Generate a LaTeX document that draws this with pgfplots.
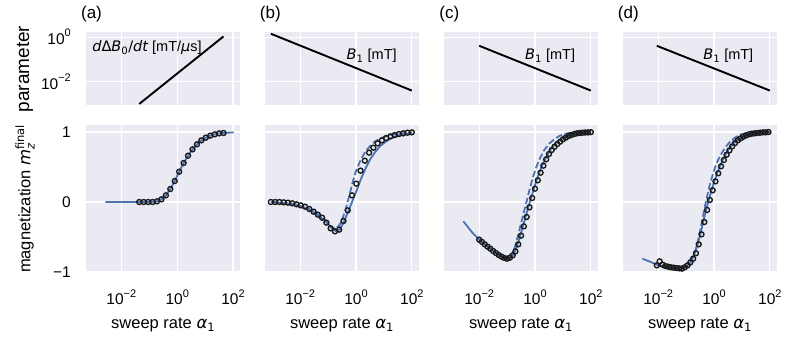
\documentclass[border=0pt]{standalone}
\usepackage{fontspec}
\setmainfont{Liberation Sans}
\newfontfamily\dv{DejaVu Sans}[ItalicFont={DejaVu Sans Oblique}]
\usepackage{pgfplots}
\usepackage{pgfplotstable}
\pgfplotsset{compat=1.18}
\definecolor{bgc}{HTML}{EAEAF2}
\definecolor{sblue}{HTML}{4C72B0}
\newcommand\tenp[1]{10\raisebox{0.5em}{\fontsize{11}{12}\selectfont #1}}

\pgfplotstableread{
lx y
-2.57 0.000
-1.80 0.000
-1.360 0.000
-1.201 0.000
-1.042 0.000
-0.883 0.002
-0.724 0.010
-0.565 0.038
-0.406 0.095
-0.247 0.186
-0.088 0.300
0.071 0.433
0.230 0.557
0.389 0.662
0.548 0.752
0.707 0.824
0.866 0.881
1.025 0.919
1.184 0.948
1.343 0.967
1.502 0.981
1.661 0.986
2.020 0.995
}\aLine
\pgfplotstableread{
lx y
-1.360 0.000
-1.201 0.000
-1.042 0.000
-0.883 0.000
-0.724 0.010
-0.565 0.038
-0.406 0.095
-0.247 0.186
-0.088 0.300
0.071 0.433
0.230 0.557
0.389 0.662
0.548 0.752
0.707 0.824
0.866 0.881
1.025 0.919
1.184 0.948
1.343 0.967
1.502 0.981
1.661 0.986
}\aPts
\pgfplotstableread{
lx y
-3.050 0.000
-2.897 0.000
-2.744 0.000
-2.591 -0.005
-2.438 -0.010
-2.285 -0.019
-2.132 -0.033
-1.979 -0.048
-1.826 -0.067
-1.673 -0.100
-1.520 -0.138
-1.367 -0.181
-1.214 -0.224
-1.061 -0.295
-0.908 -0.376
-0.755 -0.419
-0.602 -0.395
-0.449 -0.271
-0.296 -0.119
-0.143 0.095
0.010 0.262
0.163 0.448
0.316 0.590
0.469 0.705
0.622 0.776
0.775 0.838
0.928 0.881
1.081 0.914
1.234 0.938
1.387 0.957
1.540 0.971
1.693 0.981
1.846 0.990
1.999 0.995
}\bPts
\pgfplotstableread{
lx y
-3.048 0.000
-2.205 -0.029
-1.602 -0.119
-1.120 -0.262
-0.880 -0.371
-0.735 -0.414
-0.578 -0.390
-0.422 -0.276
-0.277 -0.133
-0.133 0.010
0.024 0.167
0.181 0.333
0.349 0.486
0.506 0.610
0.687 0.714
0.867 0.800
1.048 0.857
1.229 0.905
1.410 0.938
1.651 0.967
2.012 0.990
}\bSolid
\pgfplotstableread{
lx y
-3.048 0.000
-2.205 -0.029
-1.602 -0.114
-1.120 -0.252
-1.000 -0.310
-0.880 -0.362
-0.759 -0.381
-0.614 -0.343
-0.482 -0.238
-0.373 -0.105
-0.253 0.071
-0.133 0.262
-0.012 0.429
0.145 0.581
0.325 0.714
0.506 0.800
0.687 0.867
0.928 0.919
1.169 0.952
1.410 0.971
1.651 0.981
2.012 0.995
}\bDash
\pgfplotstableread{
lx y
-2.0 -0.538
-1.9 -0.571
-1.8 -0.605
-1.7 -0.638
-1.6 -0.667
-1.5 -0.700
-1.4 -0.729
-1.3 -0.757
-1.2 -0.781
-1.1 -0.800
-1.0 -0.810
-0.9 -0.795
-0.8 -0.762
-0.7 -0.705
-0.6 -0.605
-0.5 -0.481
-0.4 -0.348
-0.3 -0.214
-0.2 -0.076
-0.1 0.057
0.0 0.190
0.1 0.310
0.2 0.419
0.3 0.519
0.4 0.610
0.5 0.686
0.6 0.743
0.7 0.790
0.8 0.829
0.9 0.862
1.0 0.895
1.1 0.919
1.2 0.943
1.3 0.957
1.4 0.971
1.5 0.981
1.6 0.986
1.7 0.990
1.8 0.993
1.9 0.995
2.0 0.998
}\cPts
\pgfplotstableread{
lx y
-2.566 -0.276
-2.265 -0.429
-2.0 -0.538
-1.8 -0.605
-1.6 -0.667
-1.4 -0.729
-1.2 -0.781
-1.0 -0.810
-0.9 -0.800
-0.8 -0.765
-0.7 -0.690
-0.6 -0.580
-0.5 -0.440
-0.4 -0.300
-0.3 -0.160
-0.2 -0.020
-0.1 0.110
0.0 0.240
0.1 0.360
0.2 0.470
0.3 0.560
0.4 0.640
0.5 0.710
0.6 0.770
0.7 0.820
0.8 0.860
1.0 0.920
1.2 0.955
1.4 0.975
1.6 0.986
1.8 0.993
2.0 0.997
}\cSolid
\pgfplotstableread{
lx y
-2.000 -0.538
-1.600 -0.667
-1.200 -0.781
-1.000 -0.805
-0.900 -0.790
-0.819 -0.762
-0.699 -0.619
-0.578 -0.429
-0.458 -0.238
-0.337 -0.048
-0.217 0.143
-0.096 0.324
0.024 0.476
0.169 0.619
0.325 0.738
0.506 0.833
0.687 0.895
0.867 0.943
1.048 0.971
1.289 0.990
1.651 1.000
2.012 1.000
}\cDash
\pgfplotstableread{
lx y
-2.048 -0.905
-1.948 -0.848
-1.848 -0.895
-1.748 -0.914
-1.648 -0.924
-1.548 -0.933
-1.448 -0.938
-1.348 -0.943
-1.248 -0.948
-1.148 -0.952
-1.048 -0.933
-0.948 -0.905
-0.848 -0.862
-0.748 -0.810
-0.648 -0.733
-0.548 -0.605
-0.448 -0.462
-0.348 -0.286
-0.248 -0.114
-0.148 0.029
-0.048 0.167
0.052 0.295
0.152 0.410
0.252 0.510
0.352 0.600
0.452 0.676
0.552 0.738
0.652 0.795
0.752 0.843
0.852 0.881
0.952 0.910
1.052 0.933
1.152 0.952
1.252 0.967
1.352 0.976
1.452 0.981
1.552 0.986
1.652 0.990
1.752 0.995
1.852 0.995
1.952 1.000
}\dPts
\pgfplotstableread{
lx y
-2.566 -0.810
-2.265 -0.857
-2.048 -0.895
-1.800 -0.925
-1.500 -0.940
-1.200 -0.950
-1.050 -0.935
-0.950 -0.905
-0.850 -0.862
-0.788 -0.810
-0.688 -0.733
-0.588 -0.605
-0.488 -0.462
-0.388 -0.286
-0.288 -0.114
-0.188 0.029
-0.088 0.167
0.012 0.295
0.112 0.410
0.212 0.510
0.312 0.600
0.412 0.676
0.512 0.738
0.612 0.795
0.712 0.843
0.812 0.881
0.912 0.910
1.100 0.945
1.300 0.970
1.500 0.982
1.750 0.992
2.000 0.998
}\dSolid
\pgfplotstableread{
lx y
-2.048 -0.900
-1.500 -0.940
-1.200 -0.950
-1.000 -0.930
-0.850 -0.870
-0.760 -0.800
-0.699 -0.738
-0.614 -0.619
-0.518 -0.452
-0.434 -0.286
-0.349 -0.105
-0.253 0.071
-0.157 0.238
-0.036 0.405
0.084 0.548
0.229 0.667
0.386 0.771
0.566 0.857
0.747 0.919
0.928 0.962
1.169 0.986
1.530 0.995
2.012 1.000
}\dDash
\pgfplotstableread{
lx ly
-1.36 -3.00
1.66 0.03
}\aTop
\pgfplotstableread{
lx ly
-3.05 0.15
2.00 -2.40
}\bTop
\pgfplotstableread{
lx ly
-2.00 -0.39
2.00 -2.40
}\cTop
\pgfplotstableread{
lx ly
-2.05 -0.39
2.00 -2.40
}\dTop

\newcommand\TopAxis[3]{%
\begin{axis}[scale only axis, width=153.5pt, height=73pt, anchor=south west, at={(#1,233.5pt)},
  clip=false,
  xmode=log, ymode=log, xmin=5.6234e-4, xmax=177.83, ymin=8.51e-4, ymax=1.61,
  xtick={0.01,1,100}, ytick={0.01,1}, xticklabels={}, yticklabels={},
  axis background/.style={fill=bgc}, axis line style={draw=none},
  major tick length=0pt, minor tick length=0pt, tick style={draw=none},
  xmajorgrids, ymajorgrids, major grid style={draw=white, line width=1.2pt},
  yticklabel style={font=\fontsize{15.5}{18}\selectfont, inner sep=0pt, anchor=east, xshift=-15.5pt},
  ylabel style={font=\fontsize{19}{22}\selectfont, at={(axis description cs:-0.4007,0.5)}, anchor=center},
  #2]
#3
\end{axis}}

\newcommand\BotAxis[3]{%
\begin{axis}[scale only axis, width=153.5pt, height=146.7pt, anchor=south west, at={(#1,67pt)},
  xmode=log, xmin=5.6234e-4, xmax=177.83, ymin=-1, ymax=1.096,
  xtick={0.01,1,100}, ytick={-1,0,1}, yticklabels={},
  xticklabels={\tenp{−2},\tenp{0},\tenp{2}},
  axis background/.style={fill=bgc}, axis line style={draw=none},
  major tick length=0pt, minor tick length=0pt, tick style={draw=none},
  xmajorgrids, ymajorgrids, major grid style={draw=white, line width=1.2pt},
  xticklabel style={font=\fontsize{15.5}{18}\selectfont, inner sep=0pt, anchor=base, yshift=-33pt},
  yticklabel style={font=\fontsize{15.5}{18}\selectfont, inner sep=0pt, anchor=east, xshift=-15.5pt},
  xlabel={sweep rate {\dv\itshape α}\textsubscript{\dv 1}},
  xlabel style={font=\fontsize{16.5}{19}\selectfont, at={(axis description cs:0.5,0)}, anchor=base, yshift=-57pt},
  ylabel style={font=\fontsize{16.5}{19}\selectfont, at={(axis description cs:-0.4007,0.5)}, anchor=center},
  #2]
#3
\end{axis}}

\tikzset{
  mytopline/.style={black, line width=1.9pt},
  mysolid/.style={sblue, line width=1.8pt},
  mydash/.style={sblue, line width=1.8pt, dash pattern=on 6.5pt off 2.8pt},
  mymark/.style={mark=o, mark size=2.5pt, mark options={draw=black!90, line width=1.35pt, fill=none, solid}},
  mytitle/.style={font=\fontsize{17}{20}\selectfont, anchor=center, xshift=5pt, yshift=18.5pt},
  mylegt/.style={font=\fontsize{14.5}{17}\selectfont, anchor=center},
}

\begin{document}
\begin{tikzpicture}
\path[use as bounding box] (0,0) rectangle (785pt,339pt);

\TopAxis{86.5pt}{yticklabels={\tenp{−2},\tenp{0}}, ylabel={parameter}}{
\addplot[mytopline] table[x expr={10^(\thisrow{lx})}, y expr={10^(\thisrow{ly})}] {\aTop};
\node[mylegt] at (rel axis cs:0.394,0.79) {{\dv\itshape d}{\dv Δ}{\dv\itshape B}\textsubscript{\dv 0}{\dv /}{\dv\itshape dt} [mT/{\dv\itshape μ}s]};
\node[mytitle] at (rel axis cs:0,1) {(a)};
}
\TopAxis{265.3pt}{}{
\addplot[mytopline] table[x expr={10^(\thisrow{lx})}, y expr={10^(\thisrow{ly})}] {\bTop};
\node[mylegt] at (rel axis cs:0.693,0.68) {{\dv\itshape B}\textsubscript{\dv 1} [mT]};
\node[mytitle] at (rel axis cs:0,1) {(b)};
}
\TopAxis{444.3pt}{}{
\addplot[mytopline] table[x expr={10^(\thisrow{lx})}, y expr={10^(\thisrow{ly})}] {\cTop};
\node[mylegt] at (rel axis cs:0.689,0.68) {{\dv\itshape B}\textsubscript{\dv 1} [mT]};
\node[mytitle] at (rel axis cs:0,1) {(c)};
}
\TopAxis{623.3pt}{}{
\addplot[mytopline] table[x expr={10^(\thisrow{lx})}, y expr={10^(\thisrow{ly})}] {\dTop};
\node[mylegt] at (rel axis cs:0.684,0.68) {{\dv\itshape B}\textsubscript{\dv 1} [mT]};
\node[mytitle] at (rel axis cs:0,1) {(d)};
}

\BotAxis{86.5pt}{yticklabels={−1,0,1},
  ylabel={magnetization {\dv\itshape m}$_{\mbox{\fontsize{11.5}{12}\selectfont\dv\itshape z}}^{\mbox{\fontsize{11.5}{12}\selectfont\dv final}}$}}{
\addplot[mysolid] table[x expr={10^(\thisrow{lx})}, y=y] {\aLine};
\addplot[only marks, mymark] table[x expr={10^(\thisrow{lx})}, y=y] {\aPts};
}
\BotAxis{265.3pt}{}{
\addplot[mysolid] table[x expr={10^(\thisrow{lx})}, y=y] {\bSolid};
\addplot[mydash] table[x expr={10^(\thisrow{lx})}, y=y] {\bDash};
\addplot[only marks, mymark] table[x expr={10^(\thisrow{lx})}, y=y] {\bPts};
}
\BotAxis{444.3pt}{}{
\addplot[mysolid] table[x expr={10^(\thisrow{lx})}, y=y] {\cSolid};
\addplot[mydash] table[x expr={10^(\thisrow{lx})}, y=y] {\cDash};
\addplot[only marks, mymark] table[x expr={10^(\thisrow{lx})}, y=y] {\cPts};
}
\BotAxis{623.3pt}{}{
\addplot[mysolid] table[x expr={10^(\thisrow{lx})}, y=y] {\dSolid};
\addplot[mydash] table[x expr={10^(\thisrow{lx})}, y=y] {\dDash};
\addplot[only marks, mymark] table[x expr={10^(\thisrow{lx})}, y=y] {\dPts};
}
\end{tikzpicture}
\end{document}
